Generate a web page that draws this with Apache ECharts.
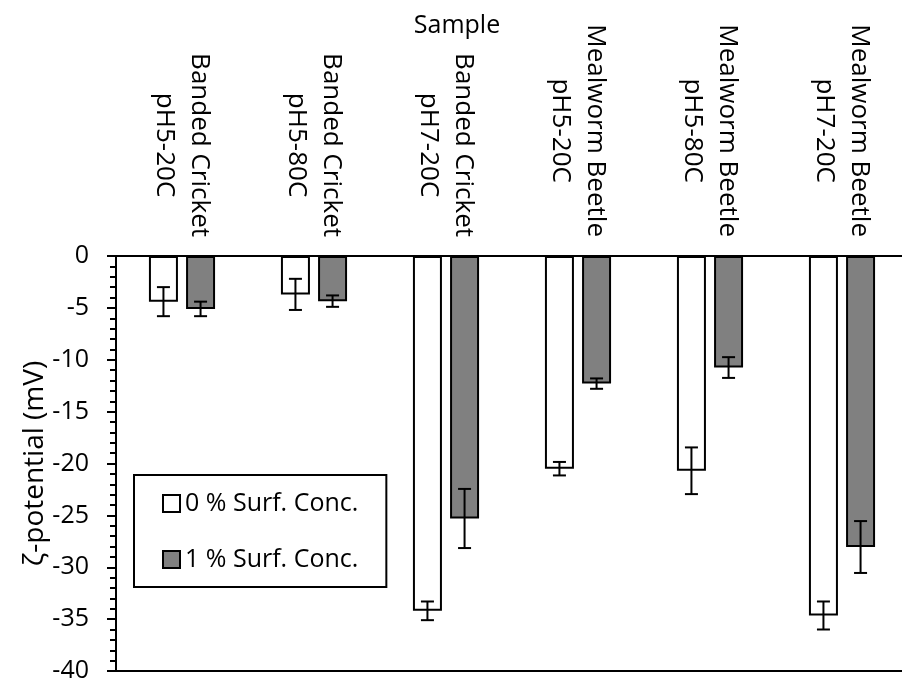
<!DOCTYPE html>
<html>
<head>
<meta charset="utf-8">
<title>Zeta potential by sample</title>
<script src="https://cdn.jsdelivr.net/npm/echarts@6/dist/echarts.min.js"></script>
<style>
  html, body { margin: 0; padding: 0; background: #fff; }
  #chart { width: 902px; height: 679px; }
</style>
</head>
<body>
<div id="chart"></div>
<script>
// Sample names (two lines each: insect, then pH / temperature)
const categories = [
  'Banded Cricket\npH5-20C',
  'Banded Cricket\npH5-80C',
  'Banded Cricket\npH7-20C',
  'Mealworm Beetle\npH5-20C',
  'Mealworm Beetle\npH5-80C',
  'Mealworm Beetle\npH7-20C'
];

// Zeta potential (mV) and standard deviations
const seriesNames = ['0 % Surf. Conc.', '1 % Surf. Conc.'];
const zeta0 = [-4.4, -3.7, -34.2, -20.5, -20.7, -34.65];
const err0  = [1.4, 1.5, 0.9, 0.65, 2.25, 1.35];
const zeta1 = [-5.1, -4.35, -25.3, -12.3, -10.75, -28.05];
const err1  = [0.7, 0.55, 2.85, 0.5, 1.0, 2.5];

// y axis ticks
const yMin = -40, yMax = 0, yStep = 5;

const FONT = '"Open Sans", "Noto Sans", sans-serif';
const BAR_W = 29;
const BAR_GAP = 0.28;
const SHIFT = BAR_W * (1 + BAR_GAP) / 2;
const CAP = 6.5;

function errorBars(offset) {
  return function (params, api) {
    const i = api.value(0), v = api.value(1), e = api.value(2);
    const top = api.coord([i, v + e]);
    const bot = api.coord([i, v - e]);
    const x = top[0] + offset;
    const style = { stroke: '#000', lineWidth: 2, fill: null };
    return {
      type: 'group',
      children: [
        { type: 'line', shape: { x1: x, y1: top[1], x2: x, y2: bot[1] }, style },
        { type: 'line', shape: { x1: x - CAP, y1: top[1], x2: x + CAP, y2: top[1] }, style },
        { type: 'line', shape: { x1: x - CAP, y1: bot[1], x2: x + CAP, y2: bot[1] }, style }
      ]
    };
  };
}

const chart = echarts.init(document.getElementById('chart'));
chart.setOption({
  animation: false,
  backgroundColor: '#fff',
  textStyle: { fontFamily: FONT, color: '#000' },
  grid: {
    left: 116, right: -6, top: 256, bottom: 8,
    outerBoundsMode: 'none',
    containLabel: false,
    show: true, borderColor: '#000', borderWidth: 2, backgroundColor: 'transparent'
  },
  legend: {
    orient: 'vertical',
    left: 134, top: 475,
    padding: [16, 28, 15, 28],
    itemGap: 31,
    itemWidth: 17, itemHeight: 17,
    borderColor: '#000', borderWidth: 2,
    backgroundColor: '#fff',
    icon: 'rect',
    textStyle: { fontFamily: FONT, fontSize: 25, color: '#000' },
    itemStyle: { borderColor: '#000', borderWidth: 2 },
    data: seriesNames
  },
  xAxis: {
    type: 'category',
    position: 'top',
    data: categories,
    name: 'Sample',
    nameLocation: 'middle',
    nameGap: 218,
    nameMoveOverlap: false,
    nameTextStyle: { fontFamily: FONT, fontSize: 25, color: '#000', padding: [0, 110, 0, 0] },
    axisLine: { show: true, lineStyle: { color: '#000', width: 2 } },
    axisTick: { show: false },
    splitLine: { show: false },
    axisLabel: {
      rotate: -90,
      margin: 19,
      interval: 0,
      color: '#000',
      formatter: function (v) {
        return v.split('\n').map(function (s) { return '{a|' + s + '}'; }).join('\n');
      },
      rich: {
        a: { align: 'center', fontFamily: FONT, fontSize: 26, lineHeight: 35, color: '#000' }
      }
    }
  },
  yAxis: {
    type: 'value',
    min: yMin, max: yMax, interval: yStep,
    name: 'ζ-potential (mV)',
    nameLocation: 'middle',
    nameGap: 67,
    nameMoveOverlap: false,
    nameTextStyle: { fontFamily: FONT, fontSize: 28, color: '#000' },
    axisLine: { show: true, lineStyle: { color: '#000', width: 2 } },
    axisTick: { show: true, length: 9, lineStyle: { color: '#000', width: 2 } },
    minorTick: { show: true, splitNumber: 5, length: 6, lineStyle: { color: '#000', width: 2 } },
    splitLine: { show: false },
    axisLabel: { margin: 27, fontFamily: FONT, fontSize: 25, color: '#000' }
  },
  series: [
    {
      name: seriesNames[0], type: 'bar', data: zeta0,
      barWidth: BAR_W, barGap: (BAR_GAP * 100) + '%',
      itemStyle: { color: '#fff', borderColor: '#000', borderWidth: 2 }
    },
    {
      name: seriesNames[1], type: 'bar', data: zeta1,
      barWidth: BAR_W, barGap: (BAR_GAP * 100) + '%',
      itemStyle: { color: '#808080', borderColor: '#000', borderWidth: 2 }
    },
    {
      type: 'custom', z: 10, silent: true,
      renderItem: errorBars(-SHIFT),
      data: zeta0.map(function (v, i) { return [i, v, err0[i]]; })
    },
    {
      type: 'custom', z: 10, silent: true,
      renderItem: errorBars(SHIFT),
      data: zeta1.map(function (v, i) { return [i, v, err1[i]]; })
    }
  ]
});
</script>
</body>
</html>
